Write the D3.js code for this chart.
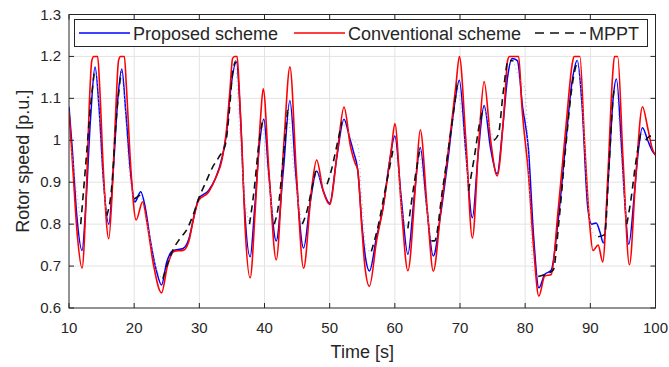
<!DOCTYPE html>
<html>
<head>
<meta charset="utf-8">
<script src="https://d3js.org/d3.v7.min.js"></script>
<style>
    body { margin: 0; background: #fff; }
    text { font-family: "Liberation Sans", Arial, sans-serif; fill: #262626; }
</style>
</head>
<body>
<div id="chart-area"></div>
<script>
/*
*    Rotor speed - proposed vs conventional scheme vs MPPT
*/

// proposed scheme (blue)
var propTime = [10, 10.5, 11.2, 12.0, 12.6, 13.3, 14.0, 14.6, 15.3, 16.1, 16.8, 17.5, 18.1, 18.7, 19.4,
    20.1, 21.0, 21.7, 22.5, 23.4, 24.2, 25.0, 26.0, 27.5, 28.4, 29.2, 29.9, 31.4, 32.5, 33.5, 34.2,
    34.8, 35.7, 36.3, 36.9, 37.8, 38.5, 39.3, 39.9, 40.6, 41.8, 42.9, 43.9, 44.8, 46.0, 47.0, 48.0,
    49.0, 50.0, 51.1, 52.2, 53.0, 53.7, 54.3, 55.0, 55.5, 56.1, 57.2, 58.2, 59.2, 60.0, 61.0, 62.0,
    63.0, 63.9, 64.9, 65.9, 67.0, 68.2, 69.2, 69.9, 70.9, 71.9, 72.8, 73.7, 74.7, 75.7, 76.5, 77.3,
    78.0, 78.8, 79.6, 80.5, 81.3, 82.1, 83.0, 84.0, 85.0, 86.2, 87.2, 88.0, 88.7, 89.6, 90.2, 90.9,
    91.5, 92.0, 92.8, 93.5, 94.0, 94.8, 95.3, 95.9, 96.8, 97.4, 98.0, 98.8, 99.5, 100];
var propSpeed = [1.08, 0.98, 0.82, 0.737, 0.85, 1.05, 1.175, 1.08, 0.9, 0.80, 0.93, 1.10, 1.17, 1.07, 0.93,
    0.853, 0.877, 0.84, 0.76, 0.69, 0.655, 0.71, 0.737, 0.742, 0.765, 0.82, 0.861, 0.88, 0.91, 0.96, 1.02,
    1.12, 1.187, 1.06, 0.85, 0.722, 0.84, 1.0, 1.05, 0.93, 0.76, 0.93, 1.095, 0.92, 0.743, 0.85, 0.927,
    0.88, 0.85, 0.96, 1.05, 1.01, 0.97, 0.93, 0.79, 0.72, 0.688, 0.77, 0.84, 0.95, 1.01, 0.86, 0.728,
    0.87, 0.983, 0.84, 0.724, 0.82, 0.96, 1.09, 1.143, 0.97, 0.815, 0.97, 1.083, 0.98, 0.92, 1.02, 1.15,
    1.195, 1.19, 1.08, 0.98, 0.77, 0.648, 0.68, 0.69, 0.80, 0.99, 1.14, 1.19, 1.09, 0.84, 0.80, 0.803,
    0.78, 0.755, 0.92, 1.10, 1.146, 0.98, 0.85, 0.752, 0.88, 0.98, 1.03, 1.0, 0.975, 0.965];

// conventional scheme (red)
var convTime = [10, 10.6, 11.3, 12.0, 12.6, 13.1, 13.5, 13.8, 14.4, 14.7, 15.3, 16.1, 16.7, 17.2, 17.6,
    17.9, 18.5, 18.8, 19.5, 20.3, 21.3, 22.0, 23.0, 24.2, 25.1, 26.1, 27.6, 28.4, 29.2, 29.9, 31.4,
    32.5, 33.5, 34.1, 34.7, 35.1, 35.4, 35.8, 36.1, 36.5, 37.0, 37.8, 38.6, 39.4, 39.8, 40.7, 41.8,
    43.0, 43.9, 44.9, 46.0, 47.2, 48.0, 49.0, 50.0, 51.2, 52.2, 53.2, 53.9, 54.3, 54.9, 55.4, 56.1,
    57.2, 58.2, 59.5, 60.0, 61.0, 62.0, 63.3, 63.9, 65.0, 65.9, 67.1, 68.4, 69.4, 69.9, 70.9, 71.9,
    72.9, 73.7, 74.7, 75.7, 76.8, 77.3, 77.6, 79.0, 79.5, 80.5, 81.3, 82.1, 83.0, 84.0, 85.1, 86.3,
    87.2, 87.5, 88.4, 89.1, 89.9, 90.4, 91.2, 91.9, 92.7, 93.4, 93.7, 94.2, 95.0, 96.0, 97.0, 98.0,
    98.8, 99.5, 100];
var convSpeed = [1.07, 0.93, 0.77, 0.695, 0.85, 1.08, 1.19, 1.2, 1.2, 1.13, 0.92, 0.765, 0.9, 1.08, 1.19,
    1.2, 1.2, 1.13, 0.93, 0.81, 0.853, 0.80, 0.70, 0.636, 0.70, 0.735, 0.738, 0.76, 0.82, 0.857, 0.876,
    0.91, 0.955, 1.015, 1.12, 1.195, 1.2, 1.2, 1.13, 1.0, 0.80, 0.672, 0.84, 1.055, 1.123, 0.92, 0.715,
    1.0, 1.175, 0.92, 0.695, 0.88, 0.953, 0.88, 0.847, 0.975, 1.079, 0.985, 0.945, 0.93, 0.80, 0.70, 0.652,
    0.76, 0.84, 0.983, 1.04, 0.84, 0.689, 0.92, 1.025, 0.83, 0.688, 0.84, 1.0, 1.135, 1.2, 1.0, 0.767,
    1.0, 1.14, 1.0, 0.915, 1.08, 1.19, 1.2, 1.2, 1.08, 0.92, 0.743, 0.628, 0.676, 0.68, 0.84, 1.04,
    1.18, 1.2, 1.2, 1.0, 0.80, 0.737, 0.75, 0.71, 0.92, 1.15, 1.2, 1.2, 0.96, 0.703, 0.92, 1.08,
    1.03, 0.98, 0.965];

// MPPT reference (black dashed)
var mpptTime = [10, 11.0, 11.8, 12.5, 13.3, 13.9, 14.3, 15.0, 15.8, 16.5, 17.3, 18.0, 18.5, 19.2, 20.0,
    21.0, 22.0, 23.5, 24.4, 25.0, 26.0, 27.0, 28.0, 29.0, 30.0, 31.0, 32.0, 33.0, 34.0, 34.6, 35.1,
    35.6, 36.2, 37.0, 37.7, 38.4, 39.2, 39.7, 40.4, 41.5, 42.1, 43.0, 43.6, 44.5, 45.8, 46.5, 47.2,
    47.9, 49.0, 49.6, 50.2, 51.0, 51.9, 52.8, 53.6, 54.3, 55.0, 55.6, 56.4, 57.5, 58.5, 59.7, 60.3,
    61.2, 62.0, 63.0, 63.8, 64.6, 65.6, 66.1, 67.3, 68.5, 69.6, 70.3, 71.3, 72.2, 73.0, 73.7, 74.4,
    75.2, 75.9, 76.6, 77.4, 78.2, 79.0, 80.0, 80.6, 81.3, 82.0, 83.0, 84.3, 85.2, 86.2, 87.2, 88.0,
    88.8, 89.6, 90.4, 91.2, 92.2, 92.9, 93.7, 94.1, 94.8, 95.6, 96.2, 97.0, 97.8, 98.5, 99.2, 100];
var mpptSpeed = [1.02, 0.90, 0.80, 0.93, 1.08, 1.165, 1.15, 0.95, 0.82, 0.88, 1.06, 1.165, 1.1, 0.93, 0.86,
    0.87, 0.80, 0.69, 0.67, 0.70, 0.74, 0.765, 0.785, 0.82, 0.865, 0.9, 0.935, 0.96, 0.99, 1.07, 1.16,
    1.19, 1.02, 0.86, 0.80, 0.88, 1.0, 1.045, 0.93, 0.80, 0.84, 0.98, 1.08, 0.93, 0.80, 0.83, 0.88,
    0.93, 0.90, 0.895, 0.925, 0.98, 1.045, 1.02, 1.0, 0.99, 0.85, 0.74, 0.735, 0.80, 0.88, 0.975, 0.95,
    0.82, 0.79, 0.90, 0.975, 0.87, 0.76, 0.76, 0.88, 1.01, 1.135, 1.06, 0.88, 0.96, 1.04, 1.08, 1.04,
    1.0, 1.015, 1.11, 1.19, 1.19, 1.15, 1.12, 0.9, 0.68, 0.675, 0.68, 0.69, 0.81, 0.98, 1.13, 1.19,
    1.08, 0.86, 0.78, 0.77, 0.775, 0.95, 1.12, 1.12, 0.95, 0.80, 0.855, 0.95, 1.023, 1.0, 1.01, 1.01];

var xTicks = [10, 20, 30, 40, 50, 60, 70, 80, 90, 100];
var yTicks = [0.6, 0.7, 0.8, 0.9, 1.0, 1.1, 1.2, 1.3];

var margin = { left:69, right:13.5, top:14.5, bottom:59 };
var width = 669 - margin.left - margin.right,
    height = 367 - margin.top - margin.bottom;

var svg = d3.select("#chart-area")
    .append("svg")
        .attr("width", 669)
        .attr("height", 367);

var g = svg.append("g")
    .attr("transform", "translate(" + margin.left + ", " + margin.top + ")");

var x = d3.scaleLinear().domain([10, 100]).range([0, width]);
var y = d3.scaleLinear().domain([0.6, 1.3]).range([height, 0]);

// grid
g.append("g").selectAll("line").data(xTicks.slice(1, -1)).enter().append("line")
    .attr("x1", function(d){ return x(d); })
    .attr("x2", function(d){ return x(d); })
    .attr("y1", 0).attr("y2", height)
    .attr("stroke", "#e3e3e3").attr("stroke-width", 1);
g.append("g").selectAll("line").data(yTicks.slice(1, -1)).enter().append("line")
    .attr("y1", function(d){ return y(d); })
    .attr("y2", function(d){ return y(d); })
    .attr("x1", 0).attr("x2", width)
    .attr("stroke", "#e3e3e3").attr("stroke-width", 1);

g.append("clipPath").attr("id", "clip")
    .append("rect").attr("width", width).attr("height", height);

var plot = g.append("g").attr("clip-path", "url(#clip)");

function pts(ts, vs){
    return ts.map(function(t, i){ return [t, vs[i]]; });
}

var line = d3.line()
    .x(function(d){ return x(d[0]); })
    .y(function(d){ return y(d[1]); })
    .curve(d3.curveMonotoneX);

plot.append("path")
    .attr("d", line(pts(propTime, propSpeed)))
    .attr("fill", "none")
    .attr("stroke", "#0000ff")
    .attr("stroke-width", 1.5);

plot.append("path")
    .attr("d", line(pts(convTime, convSpeed)))
    .attr("fill", "none")
    .attr("stroke", "#ff0000")
    .attr("stroke-width", 1.6);

// MPPT: split into rising and falling runs (falling runs look faint in the figure)
var mppt = pts(mpptTime, mpptSpeed);
var runs = [], cur = [mppt[0]], curFall = mppt[1][1] < mppt[0][1];
for (var i = 1; i < mppt.length; i++) {
    var fall = mppt[i][1] < mppt[i - 1][1];
    if (fall !== curFall) {
        runs.push({ fall: curFall, p: cur });
        cur = [mppt[i - 1]];
        curFall = fall;
    }
    cur.push(mppt[i]);
}
runs.push({ fall: curFall, p: cur });

plot.selectAll(".mppt").data(runs).enter().append("path")
    .attr("class", "mppt")
    .attr("d", function(d){ return line(d.p); })
    .attr("fill", "none")
    .attr("stroke", function(d){ return d.fall ? "#b0b0b0" : "#111"; })
    .attr("stroke-width", function(d){ return d.fall ? 1 : 1.6; })
    .attr("stroke-dasharray", function(d){ return d.fall ? "1,3" : "7,5"; });

// axes box
g.append("rect")
    .attr("width", width).attr("height", height)
    .attr("fill", "none").attr("stroke", "#262626").attr("stroke-width", 1);

// ticks inside, on all four sides
var tk = g.append("g").attr("stroke", "#262626").attr("stroke-width", 1);
xTicks.forEach(function(d){
    tk.append("line").attr("x1", x(d)).attr("x2", x(d)).attr("y1", height).attr("y2", height - 5);
    tk.append("line").attr("x1", x(d)).attr("x2", x(d)).attr("y1", 0).attr("y2", 5);
});
yTicks.forEach(function(d){
    tk.append("line").attr("y1", y(d)).attr("y2", y(d)).attr("x1", 0).attr("x2", 5);
    tk.append("line").attr("y1", y(d)).attr("y2", y(d)).attr("x1", width).attr("x2", width - 5);
});

// tick labels
g.append("g").selectAll("text").data(xTicks).enter().append("text")
    .attr("x", function(d){ return x(d); })
    .attr("y", height + 25)
    .attr("text-anchor", "middle")
    .attr("font-size", "15px")
    .text(function(d){ return d; });

g.append("g").selectAll("text").data(yTicks).enter().append("text")
    .attr("x", -8)
    .attr("y", function(d){ return y(d) + 5; })
    .attr("text-anchor", "end")
    .attr("font-size", "15px")
    .text(function(d){ return d3.format("~g")(d); });

// axis labels
g.append("text")
    .attr("x", width / 2)
    .attr("y", height + 50)
    .attr("text-anchor", "middle")
    .attr("font-size", "18px")
    .text("Time [s]");

g.append("text")
    .attr("transform", "translate(-40," + (height / 2) + ") rotate(-90)")
    .attr("text-anchor", "middle")
    .attr("font-size", "18px")
    .text("Rotor speed [p.u.]");

// legend
var lg = svg.append("g");
lg.append("rect")
    .attr("x", 74.5).attr("y", 19.5).attr("width", 573).attr("height", 27)
    .attr("fill", "#fff").attr("stroke", "#262626").attr("stroke-width", 1);

var legendItems = [
    { name: "Proposed scheme", color: "#0000ff", dash: null, x0: 79 },
    { name: "Conventional scheme", color: "#ff0000", dash: null, x0: 294 },
    { name: "MPPT", color: "#111", dash: "9,6", x0: 535 }
];
legendItems.forEach(function(d){
    lg.append("line")
        .attr("x1", d.x0).attr("x2", d.x0 + 51)
        .attr("y1", 33).attr("y2", 33)
        .attr("stroke", d.color)
        .attr("stroke-width", 1.6)
        .attr("stroke-dasharray", d.dash);
    lg.append("text")
        .attr("x", d.x0 + 54)
        .attr("y", 39.5)
        .attr("font-size", "18px")
        .text(d.name);
});
</script>
</body>
</html>
